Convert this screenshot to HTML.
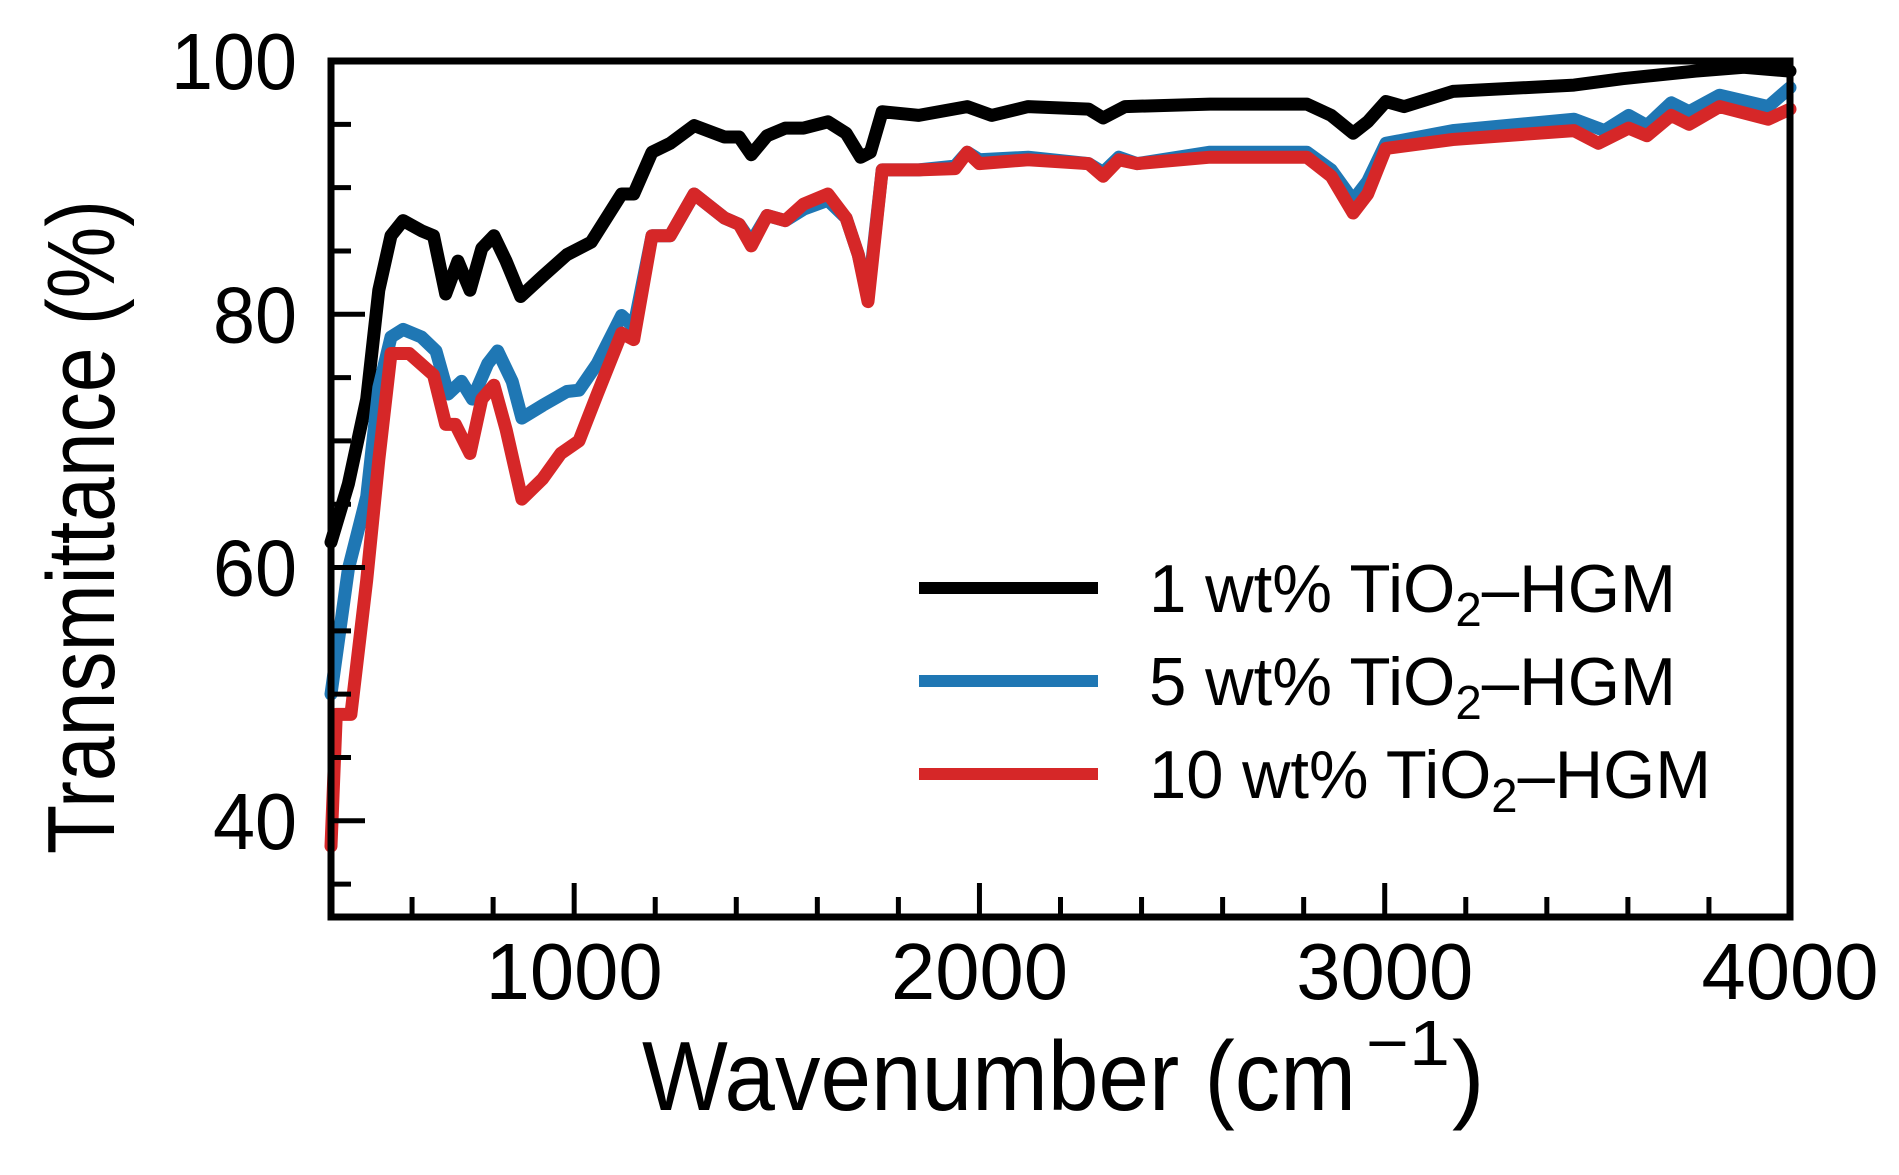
<!DOCTYPE html>
<html><head><meta charset="utf-8"><style>
html,body{margin:0;padding:0;background:#fff;}
svg{display:block;font-family:"Liberation Sans",Arial,sans-serif;}
</style></head><body>
<svg id="chart" width="1899" height="1175" viewBox="0 0 1899 1175" xmlns="http://www.w3.org/2000/svg">
<g id="plot"></g>
<g id="axes"></g>
<text x="0" y="0" transform="translate(114,527) rotate(-90)" text-anchor="middle" font-size="96" textLength="654" lengthAdjust="spacingAndGlyphs">Transmittance (%)</text>
<text x="642" y="1110" font-size="98" textLength="714" lengthAdjust="spacingAndGlyphs">Wavenumber (cm</text>
<text x="1366" y="1065" font-size="64" textLength="84" lengthAdjust="spacingAndGlyphs">−1</text>
<text x="1452" y="1110" font-size="98">)</text>
<g id="legend">
<line x1="919" y1="588" x2="1098" y2="588" stroke="#000" stroke-width="12"/>
<text x="1149" y="612" font-size="68" textLength="527" lengthAdjust="spacingAndGlyphs">1 wt% TiO<tspan font-size="48" dy="14">2</tspan><tspan dy="-14">–HGM</tspan></text>
<line x1="919" y1="681" x2="1098" y2="681" stroke="#1f77b4" stroke-width="12"/>
<text x="1149" y="705" font-size="68" textLength="527" lengthAdjust="spacingAndGlyphs">5 wt% TiO<tspan font-size="48" dy="14">2</tspan><tspan dy="-14">–HGM</tspan></text>
<line x1="919" y1="774" x2="1098" y2="774" stroke="#d62728" stroke-width="12"/>
<text x="1149" y="798" font-size="68" textLength="562" lengthAdjust="spacingAndGlyphs">10 wt% TiO<tspan font-size="48" dy="14">2</tspan><tspan dy="-14">–HGM</tspan></text>
</g>
</svg>
<script>
const xTicksMajor = [1000, 2000, 3000, 4000];
const yTicksMajor = [40, 60, 80, 100];
const blackX = [400,443,488,518,548,578,623,653,683,713,743,772,802,832,868,922,982,1042,1117,1147,1192,1237,1296,1371,1407,1437,1476,1521,1566,1626,1671,1707,1731,1760,1850,1970,2030,2120,2269,2305,2359,2569,2808,2868,2922,2958,3003,3048,3168,3467,3587,3766,3886,4000];
const blackT = [62.0,66.6,73.3,81.9,86.2,87.4,86.6,86.2,81.6,84.2,81.9,85.2,86.2,84.2,81.4,83.0,84.7,85.7,89.5,89.5,92.8,93.5,94.9,94.0,94.0,92.6,94.1,94.7,94.7,95.2,94.3,92.4,92.8,96.0,95.7,96.4,95.7,96.4,96.2,95.5,96.4,96.6,96.6,95.7,94.3,95.2,96.8,96.4,97.6,98.1,98.6,99.2,99.5,99.2];
const blueX = [400,443,488,518,548,578,623,659,689,722,749,787,811,847,871,922,982,1012,1057,1117,1147,1192,1237,1296,1371,1407,1437,1476,1521,1566,1626,1671,1701,1725,1760,1850,1940,1970,2000,2120,2269,2305,2344,2389,2569,2808,2868,2922,2958,3003,3168,3467,3542,3602,3647,3707,3751,3826,3946,4000];
const blueT = [50.0,59.9,65.6,74.2,78.2,78.8,78.2,77.1,73.7,74.7,73.3,76.1,77.1,74.7,71.8,72.8,73.9,74.0,76.1,79.9,79.0,86.2,86.2,89.5,87.6,87.1,85.7,87.8,87.4,88.3,89.0,87.6,84.7,81.4,91.4,91.4,91.7,92.8,92.2,92.4,91.9,91.2,92.4,91.9,92.8,92.8,91.4,89.0,90.5,93.5,94.5,95.4,94.5,95.7,94.9,96.7,96.0,97.3,96.4,97.9];
const redX = [400,413,449,488,518,548,593,653,683,707,743,772,802,832,871,922,967,1012,1057,1117,1147,1192,1237,1296,1371,1407,1437,1476,1521,1566,1626,1671,1701,1725,1760,1850,1940,1970,2000,2120,2269,2305,2344,2389,2569,2808,2868,2922,2958,3003,3168,3467,3527,3602,3647,3707,3751,3826,3946,4000];
const redT = [38.0,48.4,48.4,59.0,68.5,76.9,76.9,75.2,71.3,71.3,69.0,73.3,74.4,70.9,65.4,67.0,69.0,70.0,73.7,78.5,78.0,86.2,86.2,89.5,87.6,87.1,85.4,87.8,87.4,88.7,89.5,87.6,84.7,81.0,91.4,91.4,91.5,92.8,91.9,92.2,91.9,90.9,92.2,91.9,92.4,92.4,90.9,88.0,89.5,93.1,93.8,94.5,93.5,94.7,94.1,95.7,95.0,96.4,95.4,96.2];

const L=331, R=1790, T=61, B=917;
const xMin=400, xMax=4000, yMin=32.4, yMax=100;
const sx = v => L + (v-xMin)/(xMax-xMin)*(R-L);
const sy = v => B - (v-yMin)/(yMax-yMin)*(B-T);
const NS='http://www.w3.org/2000/svg';
const plot=document.getElementById('plot'), axes=document.getElementById('axes');

function series(xs, ys, color, name){
  const p=document.createElementNS(NS,'path');
  p.setAttribute('d', xs.map((x,i)=>(i?'L':'M')+sx(x).toFixed(1)+','+sy(ys[i]).toFixed(1)).join(''));
  p.setAttribute('fill','none'); p.setAttribute('stroke',color);
  p.setAttribute('stroke-width','13'); p.setAttribute('stroke-linejoin','round'); p.setAttribute('stroke-linecap','round');
  
  
  plot.appendChild(p);
}
series(blackX, blackT, '#000000', 'series-1wt');
series(blueX, blueT, '#1f77b4', 'series-5wt');
series(redX, redT, '#d62728', 'series-10wt');

function line(x1,y1,x2,y2,w,name){
  const l=document.createElementNS(NS,'line');
  l.setAttribute('x1',x1);l.setAttribute('y1',y1);l.setAttribute('x2',x2);l.setAttribute('y2',y2);
  l.setAttribute('stroke','#000');l.setAttribute('stroke-width',w);
  
  
  axes.appendChild(l);
}
for(let v=600; v<4000; v+=200){
  const major = v%1000===0;
  line(sx(v),B,sx(v),B-(major?34:20),5,'x-tick');
}
for(let v=35; v<100; v+=5){
  const major = v%20===0;
  line(L,sy(v),L+(major?34:20),sy(v),5,'y-tick');
}
const frame=document.createElementNS(NS,'rect');
frame.setAttribute('x',L);frame.setAttribute('y',T);frame.setAttribute('width',R-L);frame.setAttribute('height',B-T);
frame.setAttribute('fill','none');frame.setAttribute('stroke','#000');frame.setAttribute('stroke-width','7');


axes.appendChild(frame);

xTicksMajor.forEach(v=>{
  const t=document.createElementNS(NS,'text');
  t.setAttribute('x',sx(v));t.setAttribute('y',999);t.setAttribute('text-anchor','middle');
  t.setAttribute('font-size','80');t.setAttribute('textLength','177');t.setAttribute('lengthAdjust','spacingAndGlyphs');
  t.textContent=v;
  
  
  axes.appendChild(t);
});
yTicksMajor.forEach(v=>{
  const t=document.createElementNS(NS,'text');
  const len = String(v).length*42;
  t.setAttribute('x',297-len);t.setAttribute('y',sy(v)+28);
  t.setAttribute('font-size','80');t.setAttribute('textLength',len);t.setAttribute('lengthAdjust','spacingAndGlyphs');
  t.textContent=v;
  
  
  axes.appendChild(t);
});
</script>
</body></html>
